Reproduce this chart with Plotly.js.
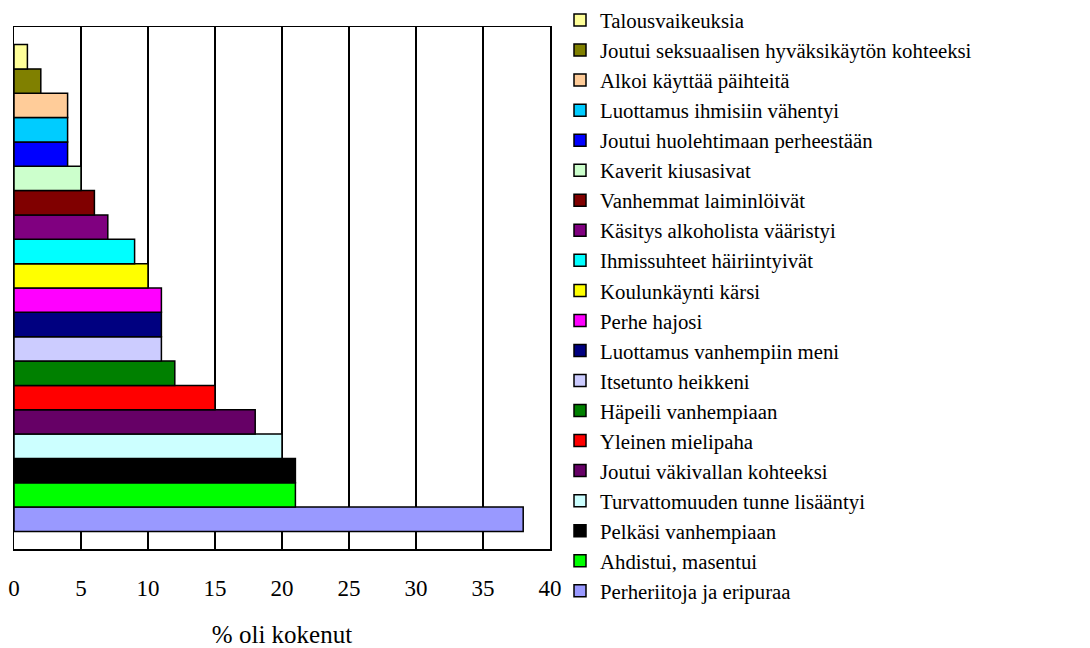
<!DOCTYPE html>
<html>
<head>
<meta charset="utf-8">
<script src="https://cdn.plot.ly/plotly-3.0.1.min.js"></script>
<style>
html,body{margin:0;padding:0;background:#fff;}
#chart{width:1090px;height:648px;}
</style>
</head>
<body>
<div id="chart"></div>
<script>
// Categories from bottom bar to top bar
const categories = [
  "Perheriitoja ja eripuraa",
  "Ahdistui, masentui",
  "Pelkäsi vanhempiaan",
  "Turvattomuuden tunne lisääntyi",
  "Joutui väkivallan kohteeksi",
  "Yleinen mielipaha",
  "Häpeili vanhempiaan",
  "Itsetunto heikkeni",
  "Luottamus vanhempiin meni",
  "Perhe hajosi",
  "Koulunkäynti kärsi",
  "Ihmissuhteet häiriintyivät",
  "Käsitys alkoholista vääristyi",
  "Vanhemmat laiminlöivät",
  "Kaverit kiusasivat",
  "Joutui huolehtimaan perheestään",
  "Luottamus ihmisiin vähentyi",
  "Alkoi käyttää päihteitä",
  "Joutui seksuaalisen hyväksikäytön kohteeksi",
  "Talousvaikeuksia"
];
const values = [38, 21, 21, 20, 18, 15, 12, 11, 11, 11, 10, 9, 7, 6, 5, 4, 4, 4, 2, 1];
const colors = [
  "#9999FF", "#00FF00", "#000000", "#CCFFFF", "#660066",
  "#FF0000", "#008000", "#CCCCFF", "#000080", "#FF00FF",
  "#FFFF00", "#00FFFF", "#800080", "#800000", "#CCFFCC",
  "#0000FF", "#00CCFF", "#FFCC99", "#808000", "#FFFF99"
];
const xTicks = [0, 5, 10, 15, 20, 25, 30, 35, 40];
const xTitle = "% oli kokenut";

const serif = "'Liberation Serif', 'Times New Roman', Times, serif";

const traces = categories.map((c, i) => ({
  type: "bar",
  orientation: "h",
  name: c,
  x: [values[i]],
  y: [c],
  marker: {color: colors[i], line: {color: "#000000", width: 1.5}},
  hoverinfo: "x+name"
}));

const layout = {
  width: 1090,
  height: 648,
  margin: {l: 14, r: 540, t: 27, b: 99, pad: 0},
  paper_bgcolor: "#ffffff",
  plot_bgcolor: "#ffffff",
  font: {family: serif, color: "#000000"},
  barmode: "overlay",
  bargap: 0,
  showlegend: true,
  legend: {
    xref: "container", yref: "container",
    x: 560/1090, y: 1,
    xanchor: "left", yanchor: "top",
    traceorder: "reversed",
    tracegroupgap: 0,
    maxheight: 645,
    bgcolor: "rgba(0,0,0,0)",
    borderwidth: 0,
    font: {family: serif, size: 20.8, color: "#000000"}
  },
  xaxis: {
    range: [0, 40],
    tickvals: xTicks,
    ticktext: xTicks.map(String),
    showgrid: true,
    gridcolor: "#000000",
    gridwidth: 1.2,
    zeroline: false,
    showline: true,
    linecolor: "#000000",
    linewidth: 1.5,
    mirror: true,
    ticks: "",
    ticklabelstandoff: 18,
    tickfont: {family: serif, size: 23, color: "#000000"},
    title: {text: xTitle, font: {family: serif, size: 25, color: "#000000"}, standoff: 31},
    automargin: false,
    fixedrange: true
  },
  yaxis: {
    type: "category",
    categoryorder: "array",
    categoryarray: categories,
    range: [-1.22, 20.22],
    showticklabels: false,
    showgrid: false,
    zeroline: false,
    showline: true,
    linecolor: "#000000",
    linewidth: 1.5,
    mirror: true,
    ticks: "",
    automargin: false,
    fixedrange: true
  }
};

Plotly.newPlot("chart", traces, layout, {displayModeBar: false, staticPlot: true});
</script>
</body>
</html>
